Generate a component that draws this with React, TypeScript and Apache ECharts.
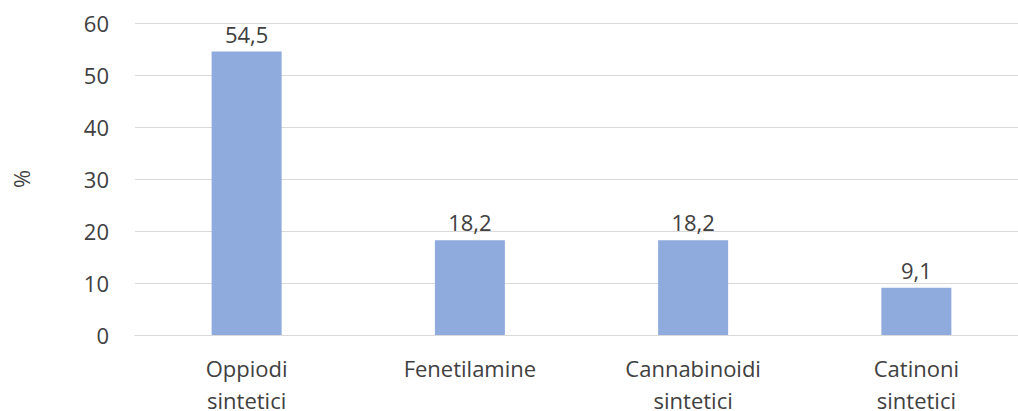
import React, { useEffect, useRef } from "react";
import * as echarts from "echarts";

const categories = ["Oppiodi\nsintetici", "Fenetilamine", "Cannabinoidi\nsintetici", "Catinoni\nsintetici"];
const values = [54.5, 18.2, 18.2, 9.1];
const yTicks = { min: 0, max: 60, interval: 10 };

export default function App() {
  const ref = useRef<HTMLDivElement>(null);
  useEffect(() => {
    document.body.style.margin = "0";
    document.body.style.overflow = "hidden";
    const chart = echarts.init(ref.current!, null, { renderer: "svg" });
    const font = "Open Sans";
    const fs = 22;
    chart.setOption({
      animation: false,
      grid: { left: 135, top: 23, width: 893, height: 312, containLabel: false, outerBoundsMode: "none" },
      xAxis: {
        type: "category",
        data: categories,
        axisTick: { show: false },
        axisLine: { lineStyle: { color: "#d9d9d9", width: 1 } },
        axisLabel: { color: "#404040", fontSize: fs, fontFamily: font, margin: 17, lineHeight: 32, interval: 0 },
      },
      yAxis: {
        type: "value",
        min: yTicks.min,
        max: yTicks.max,
        interval: yTicks.interval,
        name: "%",
        nameLocation: "middle",
        nameGap: 103,
        nameRotate: 90,
        nameTextStyle: { color: "#404040", fontSize: fs, fontFamily: font },
        axisLine: { show: false },
        axisTick: { show: false },
        splitLine: { lineStyle: { color: "#d9d9d9", width: 1 } },
        axisLabel: { color: "#404040", fontSize: fs, fontFamily: font, margin: 26 },
      },
      series: [
        {
          type: "bar",
          data: values,
          barWidth: 70,
          itemStyle: { color: "#8FAADC" },
          label: {
            show: true,
            position: "top",
            distance: 7,
            color: "#404040",
            fontSize: fs,
            fontFamily: font,
            formatter: (p: any) => String(p.value).replace(".", ","),
          },
        },
      ],
    });
    return () => chart.dispose();
  }, []);
  return <div ref={ref} style={{ width: 1018, height: 411, position: "absolute", left: 0, top: 0, overflow: "hidden" }} />;
}
